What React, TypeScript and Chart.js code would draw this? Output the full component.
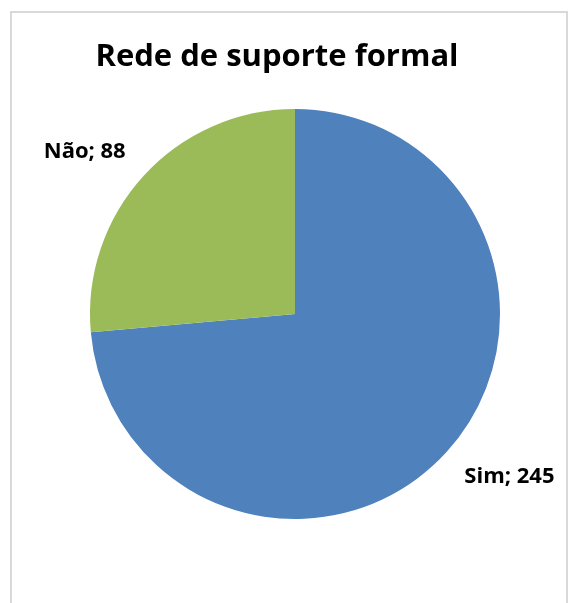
import React, { useEffect, useRef } from "react";
import { Chart, registerables } from "chart.js";

Chart.register(...registerables);

const titleText = "Rede de suporte formal";
const categories = ["Sim", "Não"];
const values = [245, 88];
const colors = ["#4F81BD", "#9BBB59"];

const FONT = "'Open Sans', 'Liberation Sans', sans-serif";

const labelPlugin = {
  id: "outerLabels",
  afterDraw(chart: any) {
    const ctx = chart.ctx;
    const meta = chart.getDatasetMeta(0);
    ctx.save();
    // title
    ctx.fillStyle = "#000";
    ctx.font = `bold 31px ${FONT}`;
    ctx.textAlign = "center";
    ctx.textBaseline = "alphabetic";
    ctx.fillText(titleText, 277, 66);
    ctx.font = `bold 22px ${FONT}`;
    meta.data.forEach((arc: any, i: number) => {
      const { x, y, startAngle, endAngle, outerRadius } = arc.getProps(
        ["x", "y", "startAngle", "endAngle", "outerRadius"],
        true
      );
      const mid = (startAngle + endAngle) / 2;
      const px = x + Math.cos(mid) * outerRadius;
      const py = y + Math.sin(mid) * outerRadius;
      const sx = px < x ? -1 : 1;
      const sy = py < y ? -1 : 1;
      ctx.textAlign = sx < 0 ? "right" : "left";
      ctx.textBaseline = "middle";
      ctx.fillText(`${categories[i]}; ${values[i]}`, px + sx * 18, py + sy * 24);
    });
    ctx.restore();
  },
};

export default function App() {
  const ref = useRef<HTMLCanvasElement>(null);
  useEffect(() => {
    if (!ref.current) return;
    const chart = new Chart(ref.current, {
      type: "pie",
      data: {
        labels: categories,
        datasets: [
          {
            data: values,
            backgroundColor: colors,
            borderWidth: 0,
          },
        ],
      },
      options: {
        animation: false,
        responsive: true,
        maintainAspectRatio: false,
        layout: { padding: { left: 90, right: 69, top: 109, bottom: 84 } },
        plugins: {
          legend: { display: false },
          title: { display: false },
          tooltip: { enabled: false },
        },
      },
      plugins: [labelPlugin],
    });
    return () => chart.destroy();
  }, []);

  return (
    <div style={{ position: "fixed", left: 0, top: 0, width: 569, height: 603, background: "#fff", overflow: "hidden" }}>
      <div
        style={{
          position: "absolute",
          left: 10,
          top: 11,
          width: 558,
          height: 600,
          border: "2px solid #d9d9d9",
          boxSizing: "border-box",
        }}
      />
      <div style={{ position: "absolute", left: 0, top: 0, width: 569, height: 603 }}>
        <canvas ref={ref} />
      </div>
    </div>
  );
}
